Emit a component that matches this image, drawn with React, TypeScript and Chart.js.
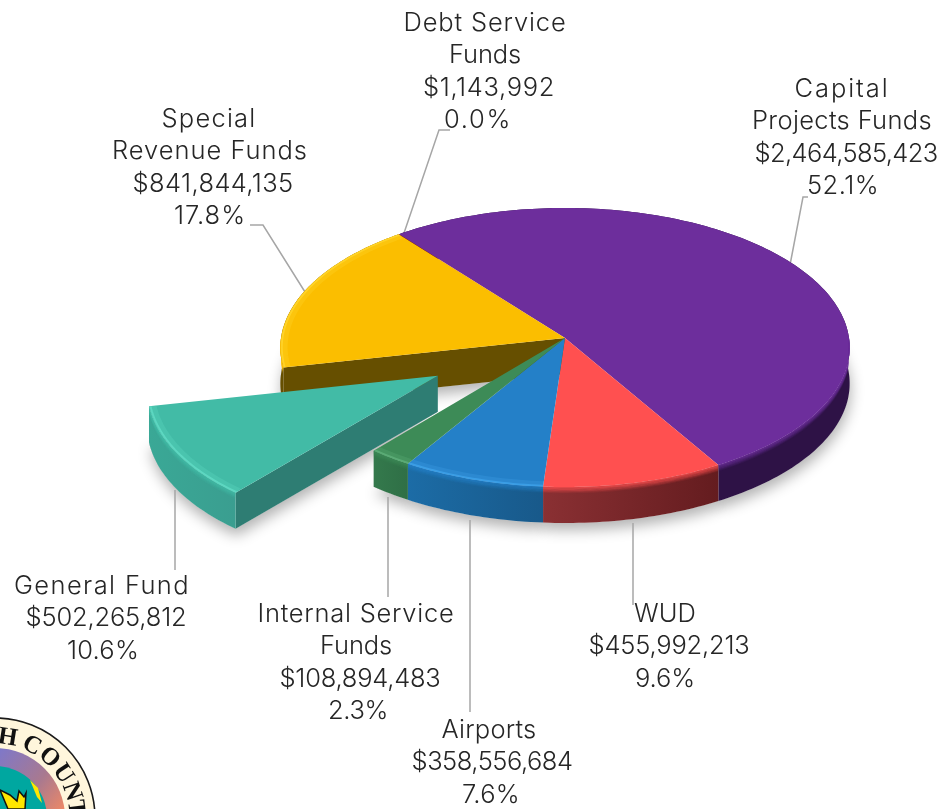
import React, { useEffect, useRef } from "react";
import { Chart, PieController, ArcElement } from "chart.js";

Chart.register(PieController, ArcElement);

// ---- data ----
const categories = ["Capital Projects Funds", "WUD", "Airports", "Internal Service Funds", "General Fund", "Special Revenue Funds", "Debt Service Funds"];
const amounts = [2464585423, 455992213, 358556684, 108894483, 502265812, 841844135, 1143992];
const amountLabels = ["$2,464,585,423", "$455,992,213", "$358,556,684", "$108,894,483", "$502,265,812", "$841,844,135", "$1,143,992"];
const percentLabels = ["52.1%", "9.6%", "7.6%", "2.3%", "10.6%", "17.8%", "0.0%"];
const nameLines = [["Capital", "Projects Funds"], ["WUD"], ["Airports"], ["Internal Service", "Funds"], ["General Fund"], ["Special", "Revenue Funds"], ["Debt Service", "Funds"]];

// ---- styles ----
const faceColors = ["#6D2E9C", "#FF5050", "#2480C8", "#3D8B57", "#42BBA6", "#FBBE00", "#C00000"];
const wallLight = ["#2E1246", "#8A3033", "#1C6CA6", "#34794C", "#3AA896", "#664F00", "#600000"];
const wallDark = ["#2E1246", "#641C1F", "#18598A", "#2F6F46", "#3A9E90", "#664F00", "#600000"];
const cutColors = ["#2E1246", "#641C1F", "#18598A", "#2F6F46", "#2E7D73", "#664F00", "#600000"];
const bevelColors = [null, null, "#3FA2EA", "#5FB07A", "#62DCC6", "#FFD62E", null];
const rotationDeg = -38;
const radiusPx = 284;
const tilt = 0.489;
const perspective = 0.068;
const depth = 36;
const explodeOption = [0, 0, 0, 0, 584, 0, 0];
const textColor = "#262626";
const fontCss = "300 25.5px Inter";
const lineHeight = 32.6;
// label block: centre x and drawn width of each line, y of the first line's centre
const labelAnchors = [
  { x: [842, 842, 846, 843], w: [95, 180, 183, 72], y: 89 },
  { x: [665, 669, 665], w: [62, 161, 60], y: 614 },
  { x: [489, 492, 491], w: [95, 161, 58], y: 730 },
  { x: [356, 356, 360, 358], w: [197, 72, 161, 60], y: 614 },
  { x: [102, 106, 103], w: [176, 161, 72], y: 586 },
  { x: [209, 210, 213, 210], w: [95, 196, 161, 72], y: 119 },
  { x: [485, 485, 489, 478], w: [163, 72, 132, 68], y: 23 },
];
const leaders = [
  [[790, 265], [803, 197], [808, 197]],
  [[633, 523], [633, 605]],
  [[470, 520], [470, 712]],
  [[388, 497], [388, 597]],
  [[175, 490], [175, 570]],
  [[305, 292], [263, 225], [250, 225]],
  [[403, 236], [439, 130], [450, 130]],
];

type Pt = [number, number];

function project(arc: any, u: number, v: number, drop = 0): Pt {
  const R = arc.outerRadius;
  const s = 1 / (1 - perspective * v);
  return [arc.x + u * R * s, arc.y + v * R * tilt * s + drop];
}
function shift(arc: any) {
  const off = (arc.options.offset || 0) / 4 / arc.outerRadius;
  const mid = (arc.startAngle + arc.endAngle) / 2;
  return [off * Math.cos(mid), off * Math.sin(mid)];
}
function rimPoints(arc: any, drop = 0, inset = 1): Pt[] {
  const [du, dv] = shift(arc);
  const n = Math.max(2, Math.ceil((arc.endAngle - arc.startAngle) / 0.02));
  const pts: Pt[] = [];
  for (let i = 0; i <= n; i++) {
    const a = arc.startAngle + ((arc.endAngle - arc.startAngle) * i) / n;
    pts.push(project(arc, du + inset * Math.cos(a), dv + inset * Math.sin(a), drop));
  }
  return pts;
}
function apex(arc: any, drop = 0): Pt {
  const [du, dv] = shift(arc);
  return project(arc, du, dv, drop);
}
function trace(ctx: CanvasRenderingContext2D, pts: Pt[]) {
  ctx.beginPath();
  pts.forEach((p, i) => (i ? ctx.lineTo(p[0], p[1]) : ctx.moveTo(p[0], p[1])));
}
function wallPolygon(arc: any): Pt[] {
  const top = rimPoints(arc);
  const bottom = rimPoints(arc, depth).reverse();
  return [...top, ...bottom];
}
function drawFace(ctx: CanvasRenderingContext2D, arc: any, i: number) {
  trace(ctx, [apex(arc), ...rimPoints(arc)]);
  ctx.closePath();
  ctx.fillStyle = faceColors[i];
  ctx.fill();
}
function frontSegment(arc: any, pts: Pt[]): Pt[] {
  const n = pts.length - 1;
  return pts.filter((_, k) => Math.sin(arc.startAngle + ((arc.endAngle - arc.startAngle) * k) / n) > -0.02);
}

const solidPlugin = {
  id: "solidPie",
  afterDatasetsUpdate(chart: any) {
    chart.getDatasetMeta(0).data.forEach((arc: any, i: number) => {
      arc.draw = (ctx: CanvasRenderingContext2D) => drawFace(ctx, arc, i);
    });
  },
  beforeDatasetsDraw(chart: any) {
    const ctx: CanvasRenderingContext2D = chart.ctx;
    const arcs: any[] = chart.getDatasetMeta(0).data;

    // soft drop shadow under the solid
    ctx.save();
    ctx.shadowColor = "rgba(0,0,0,0.30)";
    ctx.shadowBlur = 14;
    ctx.shadowOffsetY = 7;
    ctx.shadowOffsetX = 1;
    ctx.fillStyle = "#888";
    arcs.forEach((arc) => {
      trace(ctx, [apex(arc, depth), ...rimPoints(arc, depth)]);
      ctx.closePath();
      ctx.fill();
    });
    ctx.restore();
    ctx.fillStyle = "#fff";
    arcs.forEach((arc) => {
      trace(ctx, [apex(arc, depth), ...rimPoints(arc, depth)]);
      ctx.closePath();
      ctx.fill();
    });

    // leader lines
    ctx.save();
    ctx.strokeStyle = "#A6A6A6";
    ctx.lineWidth = 1.5;
    leaders.forEach((l) => {
      trace(ctx, l as Pt[]);
      ctx.stroke();
    });
    ctx.restore();

    // walls: stay-at-home slices first, the pulled-out slice last
    const order = arcs.map((_, i) => i).sort((a, b) => (arcs[a].options.offset || 0) - (arcs[b].options.offset || 0));
    order.forEach((i) => {
      const arc = arcs[i];
      const n = arcs.length;
      const prev = arcs[(i + n - 1) % n];
      const next = arcs[(i + 1) % n];
      const pulled = (arc.options.offset || 0) > 0;
      const edge = (angle: number) => {
        const [du, dv] = shift(arc);
        const p = project(arc, du + Math.cos(angle), dv + Math.sin(angle));
        const c = apex(arc);
        trace(ctx, [c, p, [p[0], p[1] + depth], [c[0], c[1] + depth]]);
        ctx.closePath();
        ctx.fillStyle = cutColors[i];
        ctx.fill();
      };
      if (Math.cos(arc.startAngle) < 0 && (pulled || (prev.options.offset || 0) > 0)) edge(arc.startAngle);
      if (Math.cos(arc.endAngle) > 0 && (pulled || (next.options.offset || 0) > 0)) edge(arc.endAngle);

      const poly = wallPolygon(arc);
      const xs = poly.map((p) => p[0]);
      const g = ctx.createLinearGradient(Math.min(...xs), 0, Math.max(...xs), 0);
      g.addColorStop(0, wallLight[i]);
      g.addColorStop(1, wallDark[i]);
      trace(ctx, poly);
      ctx.closePath();
      ctx.fillStyle = g;
      ctx.fill();
    });
  },
  afterDatasetsDraw(chart: any) {
    const ctx: CanvasRenderingContext2D = chart.ctx;
    const arcs: any[] = chart.getDatasetMeta(0).data;
    arcs.forEach((arc, i) => {
      // the face's soft bevel: it spills a few pixels over the wall, then fades out
      const pts = frontSegment(arc, rimPoints(arc));
      if (pts.length < 2) return;
      ctx.save();
      trace(ctx, [...pts, ...pts.map((p) => [p[0], p[1] + depth] as Pt).reverse()]);
      ctx.closePath();
      ctx.clip();
      ctx.strokeStyle = faceColors[i];
      for (let k = 0; k <= 5; k++) {
        ctx.globalAlpha = 0.75 - k * 0.13;
        ctx.lineWidth = 1.5;
        trace(ctx, pts.map((p) => [p[0], p[1] + k * 1.1] as Pt));
        ctx.stroke();
      }
      ctx.globalAlpha = 1;
      ctx.restore();
      // light bevel just inside the rim, kept inside the face
      const c = bevelColors[i];
      if (c) {
        ctx.save();
        trace(ctx, [apex(arc), ...rimPoints(arc)]);
        ctx.closePath();
        ctx.clip();
        ctx.strokeStyle = c;
        ctx.globalAlpha = 0.28;
        ctx.lineWidth = 6;
        trace(ctx, rimPoints(arc, 0, 0.985));
        ctx.stroke();
        ctx.globalAlpha = 0.8;
        ctx.lineWidth = 2;
        trace(ctx, rimPoints(arc, 0, 0.995));
        ctx.stroke();
        ctx.restore();
      }
    });
  },
  afterDraw(chart: any) {
    const ctx: CanvasRenderingContext2D = chart.ctx;
    drawSeal(ctx);
    ctx.save();
    ctx.font = fontCss;
    ctx.fillStyle = textColor;
    ctx.textAlign = "center";
    ctx.textBaseline = "middle";
    categories.forEach((_, i) => {
      const lines = [...nameLines[i], amountLabels[i], percentLabels[i]];
      const a = labelAnchors[i];
      lines.forEach((t, k) => {
        (ctx as any).letterSpacing = "0px";
        const spare = a.w[k] - ctx.measureText(t).width;
        (ctx as any).letterSpacing = `${spare / t.length}px`;
        ctx.fillText(t, a.x[k], a.y + k * lineHeight);
      });
    });
    ctx.restore();
  },
};

function drawSeal(ctx: CanvasRenderingContext2D) {
  const cx = -5, cy = 818;
  const ring = (r: number, fill: any, stroke?: string) => {
    ctx.beginPath();
    ctx.arc(cx, cy, r, 0, Math.PI * 2);
    ctx.fillStyle = fill;
    ctx.fill();
    if (stroke) {
      ctx.strokeStyle = stroke;
      ctx.lineWidth = 1.6;
      ctx.stroke();
    }
  };
  ctx.save();
  ring(100, "#FFF6DC", "#1a1a1a");
  const g = ctx.createLinearGradient(0, 750, 70, 809);
  g.addColorStop(0, "#7F78C8");
  g.addColorStop(0.55, "#A9798F");
  g.addColorStop(1, "#F58A62");
  ring(70, g);
  ring(52, "#00A7A0");
  ctx.fillStyle = "#FFE600";
  ctx.strokeStyle = "#111";
  ctx.lineWidth = 1.5;
  trace(ctx, [[0, 790], [10, 795], [17, 801], [19, 791], [24, 797], [26, 793], [25, 809], [8, 809]]);
  ctx.closePath();
  ctx.fill();
  ctx.stroke();
  trace(ctx, [[30, 780], [38, 788], [42, 803], [37, 797]]);
  ctx.closePath();
  ctx.fill();
  ctx.font = "bold 25px 'Liberation Serif'";
  ctx.fillStyle = "#111";
  ctx.textAlign = "center";
  ctx.textBaseline = "middle";
  const letters = ["H", "C", "O", "U", "N", "T"];
  const angles = [9, 27, 42, 57, 71, 83];
  letters.forEach((ch, i) => {
    const a = (angles[i] * Math.PI) / 180;
    ctx.save();
    ctx.translate(cx + 81 * Math.sin(a), cy - 81 * Math.cos(a));
    ctx.rotate(a);
    ctx.fillText(ch, 0, 0);
    ctx.restore();
  });
  ctx.restore();
}

export default function App() {
  const ref = useRef<HTMLCanvasElement>(null);
  useEffect(() => {
    document.body.style.margin = "0";
    document.body.style.background = "#fff";
    const chart = new Chart(ref.current!, {
      type: "pie",
      data: {
        labels: categories,
        datasets: [{ data: amounts, backgroundColor: faceColors, borderWidth: 0, offset: explodeOption }],
      },
      options: {
        responsive: false,
        animation: false,
        rotation: rotationDeg,
        radius: radiusPx,
        layout: { padding: { left: 189, right: 0, top: 0, bottom: 133 } },
        plugins: { legend: { display: false }, tooltip: { enabled: false } },
      } as any,
      plugins: [solidPlugin],
    });
    return () => chart.destroy();
  }, []);
  return <canvas ref={ref} width={941} height={809} style={{ display: "block" }} />;
}
